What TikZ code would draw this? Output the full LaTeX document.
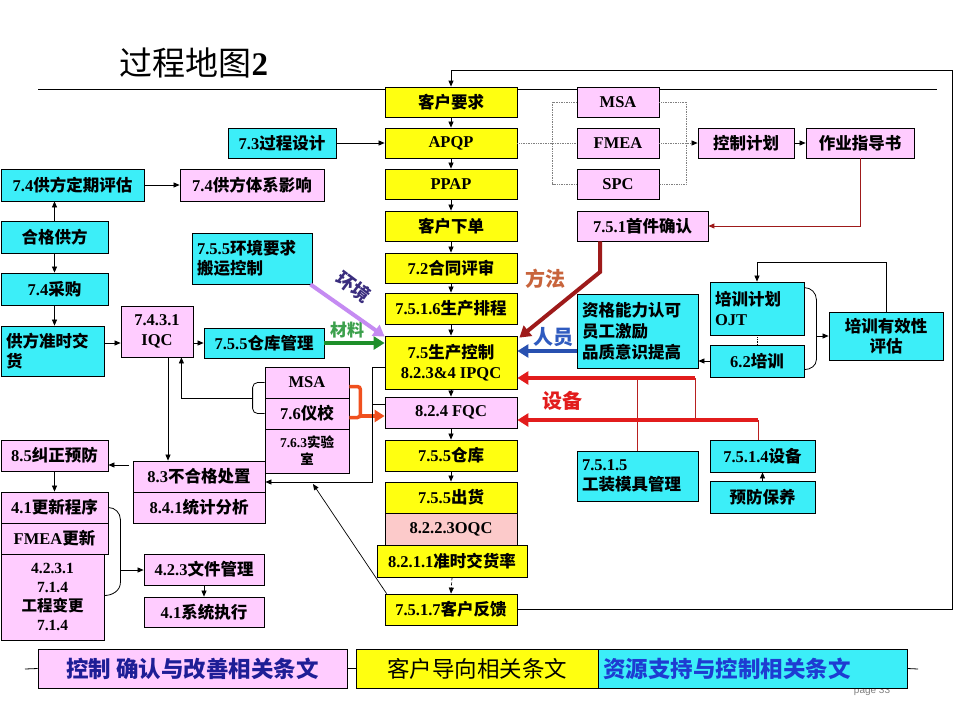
\documentclass[tikz,border=0pt]{standalone}
\usepackage{fontspec}
\setmainfont{Liberation Serif}
\setsansfont{Liberation Sans}
\newfontfamily\cjkfont{Noto Sans CJK SC}
\usetikzlibrary{arrows.meta,calc}
\XeTeXinterchartokenstate=1
\newXeTeXintercharclass\CJKcls
\newcount\cjkc
\cjkc="4E00
\loop
  \XeTeXcharclass\cjkc=\CJKcls
  \advance\cjkc by 1
\ifnum\cjkc<"A000 \repeat
\XeTeXinterchartoks 0 \CJKcls = {\cjkfont}
\XeTeXinterchartoks 4095 \CJKcls = {\cjkfont}
\XeTeXinterchartoks \CJKcls 0 = {\rmfamily}

\definecolor{ylw}{HTML}{FFFF10}
\definecolor{cyn}{HTML}{3CEEF8}
\definecolor{pnk}{HTML}{FFCCFF}
\definecolor{slm}{HTML}{FCCACA}
\definecolor{brn}{HTML}{C8643C}
\definecolor{bluA}{HTML}{2850B0}
\definecolor{bluL}{HTML}{2F5BC0}
\definecolor{mred}{HTML}{E21C1C}
\definecolor{thinred}{HTML}{B82020}
\definecolor{grn}{HTML}{1E8F2A}
\definecolor{grnL}{HTML}{3CA04C}
\definecolor{vio}{HTML}{C58BF2}
\definecolor{navyP}{HTML}{3A2D7E}
\definecolor{org}{HTML}{F0501E}
\definecolor{dred}{HTML}{9E1A1A}
\definecolor{navy}{HTML}{1E1E96}
\definecolor{lblue}{HTML}{1E3CD2}

\newcommand\bx[7]{%
  \pgfmathsetmacro\bxw{#4-#2}%
  \pgfmathsetmacro\bxh{#5-#3}%
  \pgfmathsetmacro\bxt{#4-#2-10}%
  \node[box,#6,minimum width=\bxw pt,minimum height=\bxh pt] (#1) at ({(#2+#4)/2},{(#3+#5)/2}) {#7};}

\begin{document}
\begin{tikzpicture}[x=1pt,y=-1pt,
  box/.style={draw=black, line width=0.8pt, inner sep=1pt, align=center, font=\bfseries\fontsize{16.5}{20}\selectfont},
  ybox/.style={fill=ylw}, cbox/.style={fill=cyn}, pbox/.style={fill=pnk}, obox/.style={fill=slm},
  lft/.style={align=left, text width=\bxt pt},
  arr/.style={-{Triangle[length=6pt,width=5pt]}, line width=0.7pt},
  thk/.style={line width=4pt, -{Triangle[length=11pt,width=13pt]}},
  lab/.style={font=\cjkfont\bfseries\fontsize{20}{22}\selectfont, inner sep=0pt},
  dots/.style={densely dotted, gray, line width=0.7pt}]
\fill[white] (0,0) rectangle (960,720);
\useasboundingbox (0,0) rectangle (960,720);

% title and rule
\node[font=\fontsize{33}{38}\selectfont, anchor=west] (ttl) at (116,63) {\cjkfont 过程地图{\rmfamily\bfseries 2}};
\coordinate (r1) at (38,89); \coordinate (r2) at (937,89);
\draw[line width=0.8pt] (r1) -- (r2);

% yellow column
\bx{kh}{385}{87}{517}{117}{ybox}{客户要求}
\bx{apqp}{385}{128}{517}{158}{ybox}{APQP}
\bx{ppap}{385}{169}{517}{199}{ybox}{PPAP}
\bx{xd}{385}{211}{517}{241}{ybox}{客户下单}
\bx{hp}{385}{253}{517}{283}{ybox}{7.2合同评审}
\bx{pc}{385}{293}{517}{324}{ybox}{7.5.1.6生产排程}
\bx{sc}{385}{336}{517}{389}{ybox}{7.5生产控制\\\rmfamily 8.2.3\&4 IPQC}
\bx{fqc}{385}{397}{517}{428}{pbox}{8.2.4 FQC}
\bx{ck}{385}{440}{517}{471}{ybox}{7.5.5仓库}
\bx{ch}{385}{482}{517}{513}{ybox}{7.5.5出货}
\bx{oqc}{385}{513}{517}{545}{obox}{8.2.2.3OQC}
\bx{zs}{377}{545}{527}{577}{ybox}{8.2.1.1准时交货率}
\bx{fk}{385}{594}{517}{625}{ybox}{7.5.1.7客户反馈}

% left side
\bx{pg}{1}{169}{144}{201}{cbox}{7.4供方定期评估}
\bx{yx}{180}{169}{324}{201}{pbox}{7.4供方体系影响}
\bx{hg}{1}{221}{108}{253}{cbox}{合格供方}
\bx{cg}{1}{273}{108}{305}{cbox}{7.4采购}
\bx{zsh}{1}{326}{104}{376}{cbox,lft}{供方准时交\\货}
\bx{iqc}{121}{306}{193}{357}{pbox}{7.4.3.1\\IQC}
\bx{ckgl}{204}{328}{324}{358}{cbox}{7.5.5仓库管理}
\bx{gcsj}{228}{128}{336}{158}{cbox}{7.3过程设计}
\bx{hj}{192}{233}{312}{284}{cbox,lft}{7.5.5环境要求\\搬运控制}
\bx{msa2}{265}{367}{349}{398}{pbox}{MSA}
\bx{yj}{265}{398}{349}{429}{pbox}{7.6仪校}
\bx{sys}{265}{429}{349}{473}{pbox,font=\bfseries\fontsize{13.5}{17}\selectfont}{7.6.3实验\\室}
\bx{bhg}{133}{461}{265}{492}{pbox}{8.3不合格处置}
\bx{tj}{133}{492}{265}{523}{pbox}{8.4.1统计分析}
\bx{jz}{1}{440}{108}{471}{pbox}{8.5纠正预防}
\bx{gx}{1}{492}{108}{523}{pbox}{4.1更新程序}
\bx{fm}{1}{523}{108}{554}{pbox}{FMEA更新}
\bx{gc}{1}{554}{104}{640}{pbox,font=\bfseries\fontsize{15.5}{19}\selectfont}{4.2.3.1\\7.1.4\\工程变更\\\rmfamily 7.1.4}
\bx{wj}{144}{554}{264}{585}{pbox}{4.2.3文件管理}
\bx{xt}{144}{597}{264}{627}{pbox}{4.1系统执行}

% right side
\bx{msa}{577}{87}{659}{117}{pbox}{MSA}
\bx{fmea}{577}{128}{659}{158}{pbox}{FMEA}
\bx{spc}{577}{169}{659}{199}{pbox}{SPC}
\bx{kz}{698}{128}{794}{158}{pbox}{控制计划}
\bx{zy}{806}{128}{914}{158}{pbox}{作业指导书}
\bx{sj}{577}{211}{708}{241}{pbox}{7.5.1首件确认}
\bx{zg}{577}{294}{698}{368}{cbox,lft,font=\bfseries\fontsize{16.5}{21}\selectfont}{资格能力认可\\员工激励\\品质意识提高}
\bx{px}{710}{282}{804}{335}{cbox,lft}{培训计划\\\rmfamily OJT}
\bx{px2}{710}{345}{804}{377}{cbox}{6.2培训}
\bx{yxx}{829}{312}{943}{360}{cbox}{培训有效性\\评估}
\bx{gz}{577}{451}{698}{501}{cbox,lft}{7.5.1.5\\工装模具管理}
\bx{sb}{710}{440}{815}{472}{cbox}{7.5.1.4设备}
\bx{yf}{710}{481}{815}{513}{cbox}{预防保养}

% main column arrows
\foreach \a/\b in {kh/apqp,apqp/ppap,ppap/xd,xd/hp,hp/pc,pc/sc,sc/fqc,fqc/ck,ck/ch}
  \draw[arr] (\a.south) -- (\b.north);
\draw[arr, densely dashed] (zs.south) -- (fk.north);

% feedback loop to customer requirements
\coordinate (tr) at (952,70);
\draw[arr, line width=0.8pt] (fk.east) -| (tr) -| (kh.north);

% APQP tools
\draw[dots] (apqp.east) -- (fmea.west);
\draw[dots] (msa.west) -- ++(-24,0) |- (spc.west);
\draw[dots] (msa.east) -- ++(27,0) |- (spc.east);
\draw[dots, -{Triangle[length=6pt,width=5pt,color=black]}] (fmea.east) -- (kz.west);
\draw[arr] (kz.east) -- (zy.west);
\draw[-{Triangle[length=6pt,width=5pt]}, dred, line width=1pt] (zy.south) |- (sj.east);
\draw[arr] (gcsj.east) -- (apqp.west);

% method
\coordinate (fa) at (600,272);
\draw[thk, dred] (sj.south -| fa) -- (fa) -- ([xshift=2pt,yshift=-2pt]sc.north east);
\node[lab, text=brn] (fflab) at (545,279) {方法};

% people
\coordinate (ry) at (0,351);
\draw[thk, bluA] (zg.west |- ry) -- (sc.east |- ry);
\node[lab, text=bluL] (rylab) at (553,337) {人员};
\draw[arr] (px2.west) -- (zg.east |- px2.west);
\draw[densely dotted, line width=0.7pt] (px.south) -- (px2.north);
\draw[line width=0.8pt] ([yshift=-6pt]px.north east) to[out=0,in=90] ++(12,12) -- ++(0,60) to[out=-90,in=0] ++(-12,10);
\coordinate (bk) at (816,336);
\draw[arr] (bk) -- (yxx.west |- bk);
\coordinate (lp) at (0,262);
\draw[arr] (yxx.north) |- (lp -| px.north) -- (px.north);

% equipment
\coordinate (u1) at (695,378); \coordinate (u2) at (758,420);
\draw[thinred, line width=1pt] (gz.north) -- (gz.north |- u1);
\draw[thinred, line width=1pt] (u1) -- (u1 |- u2);
\draw[thinred, line width=1pt] (u2) -- (u2 |- sb.north);
\draw[thk, mred] (u1) -- (sc.east |- u1);
\draw[thk, mred] (u2) -- (fqc.east |- u2);
\node[lab, text=mred] (sblab) at (562,401) {设备};
\draw[arr] (yf.north) -- (sb.south);

% measurement bracket
\draw[line width=3.5pt, org, rounded corners=3pt] ([yshift=-4pt]msa2.east) -- ++(11,0) -- ++(0,31) -- ++(-11,0);
\coordinate (ob) at (360,416);
\draw[line width=4pt, org, -{Triangle[length=10pt,width=12pt]}] (ob) -- (fqc.west |- ob);
\draw[line width=0.8pt, rounded corners=5pt] (msa2.west) -- ++(-12,0) -- ++(0,31) -- ++(12,0);
\coordinate (mb) at (253,398);
\draw[arr] (mb) -| ([xshift=-12pt]iqc.south east);
\coordinate (iq1) at ([xshift=11pt]iqc.south);
\draw[arr] (iq1) -- (iq1 |- bhg.north);

% process control to nonconformance
\coordinate (c1) at (372,367); \coordinate (c2) at (372,482); \coordinate (c3) at (372,404);
\draw[arr] (sc.west |- c1) -- (c1) -- (c2) -- (bhg.east |- c2);
\draw[line width=0.7pt] (fqc.west |- c3) -- (c3);
\coordinate (fb) at (313,484);
\draw[arr] ([xshift=2pt]fk.north west) -- (fb);

% material & environment
\draw[thk, grn] (ckgl.east) -- (sc.west |- ckgl.east);
\node[lab, text=grnL, font=\cjkfont\bfseries\fontsize{17}{19}\selectfont] (cllab) at (347,330) {材料};
\draw[thk, vio] ([xshift=-2pt]hj.south east) -- ([yshift=-1pt]sc.north west);
\node[lab, text=navyP, rotate=-37, font=\cjkfont\bfseries\fontsize{18.5}{20}\selectfont] (hjlab) at (354,287) {环境};

% supplier chain
\draw[arr] (hg.north) -- (hg.north |- pg.south);
\draw[arr] (pg.east) -- (yx.west);
\draw[arr] (hg.south) -- (cg.north);
\draw[arr] (cg.south) -- (cg.south |- zsh.north);
\draw[arr] (zsh.east |- ckgl.west) -- (iqc.west |- ckgl.west);
\draw[arr] (iqc.east |- ckgl.west) -- (ckgl.west);

% corrective actions
\coordinate (a85) at (129,465);
\draw[arr] (a85) -- (jz.east |- a85);
\draw[arr] (jz.south) -- (gx.north);
\draw[line width=0.8pt] (gx.east) to[out=0,in=90] ++(12,12) -- ++(0,63) to[out=-90,in=0] ++(-16,13);
\coordinate (br) at (120,570);
\draw[arr] (br) -- (wj.west |- br);
\draw[arr] (wj.south) -- (xt.north);

% legend
\node[font=\sffamily\fontsize{10}{12}\selectfont, text=gray] (pg33) at (872,691) {page 33};
\bx{lg1}{38}{649}{347}{688}{pbox, font=\cjkfont\bfseries\fontsize{22.5}{24}\selectfont, text=navy}{控制 确认与改善相关条文}
\bx{lg2}{356}{649}{598}{688}{ybox, font=\cjkfont\fontsize{22.5}{24}\selectfont}{客户导向相关条文}
\bx{lg3}{598}{649}{907}{688}{cbox, lft, font=\cjkfont\bfseries\fontsize{22.5}{24}\selectfont, text=lblue}{资源支持与控制相关条文}
\coordinate (l0) at (25,669); \coordinate (l9) at (918,669);
\draw[line width=0.8pt] (l0) -- (lg1.west);
\draw[line width=0.8pt] (lg1.east) -- (lg2.west);
\draw[line width=0.8pt] (lg3.east) -- (l9);
\end{tikzpicture}
\end{document}
